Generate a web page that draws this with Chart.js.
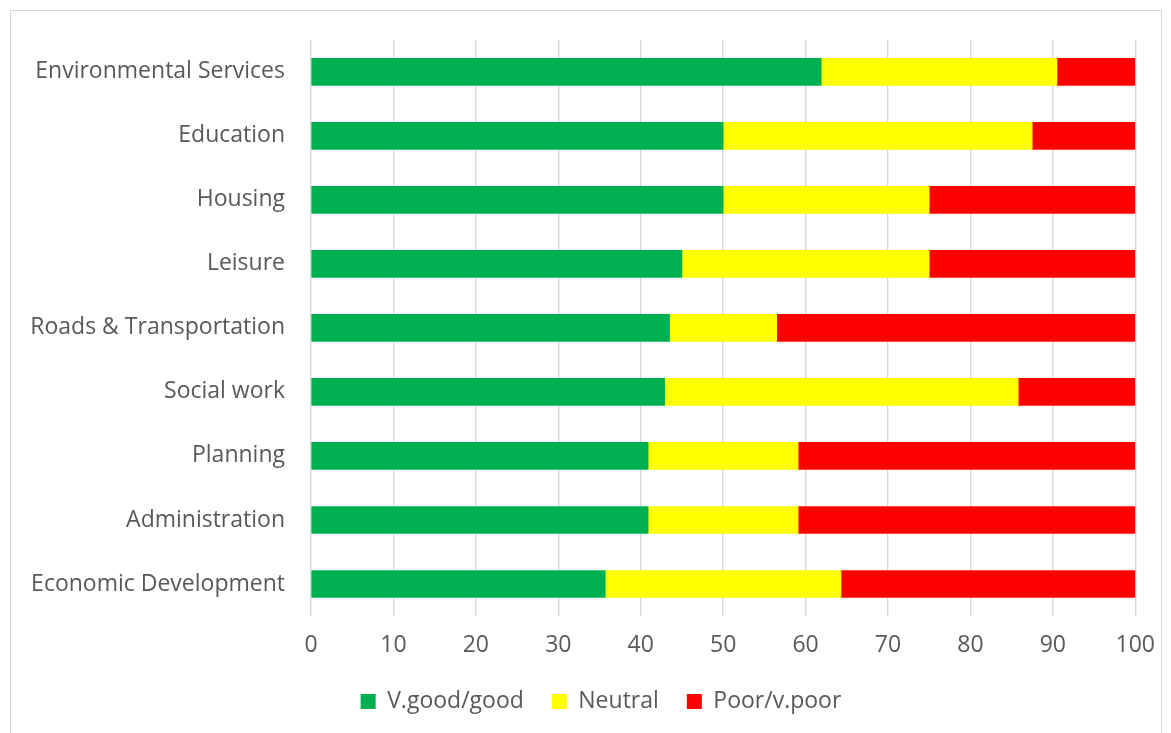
<!DOCTYPE html>
<html lang="en">
<head>
<meta charset="UTF-8">
<title>Service satisfaction</title>
<script src="https://cdn.jsdelivr.net/npm/chart.js@4"></script>
<style>
  * { box-sizing: border-box; margin: 0; padding: 0; }
  html, body { width: 1171px; height: 733px; background: #fff; overflow: hidden; }
  .frame { position: absolute; left: 10px; top: 10px; width: 1152px; height: 740px; border: 1.5px solid #d9d9d9; }
  .wrap { position: absolute; left: 0; top: 0; width: 1171px; height: 733px; }
</style>
</head>
<body>
<div class="frame"></div>
<div class="wrap"><canvas id="chart" width="1171" height="733"></canvas></div>
<script>
// ---------- Data (percent of respondents) ----------
const services = [
  'Environmental Services', 'Education', 'Housing', 'Leisure',
  'Roads & Transportation', 'Social work', 'Planning', 'Administration',
  'Economic Development'
];
const goodShare    = [61.9, 50.0, 50.0, 45.0, 43.5, 42.9, 40.9, 40.9, 35.7];
const neutralShare = [28.6, 37.5, 25.0, 30.0, 13.0, 42.9, 18.2, 18.2, 28.6];
const poorShare    = [ 9.5, 12.5, 25.0, 25.0, 43.5, 14.2, 40.9, 40.9, 35.7];
const seriesNames  = ['V.good/good', 'Neutral', 'Poor/v.poor'];
const xTicks       = [0, 10, 20, 30, 40, 50, 60, 70, 80, 90, 100];

const COLORS = { good: '#00b050', neutral: '#ffff00', poor: '#ff0000' };
const TEXT = '#595959';
const FONT = { family: '"Open Sans", sans-serif', size: 23 };

const datasets = [
  { label: seriesNames[0], data: goodShare,    backgroundColor: COLORS.good },
  { label: seriesNames[1], data: neutralShare, backgroundColor: COLORS.neutral },
  { label: seriesNames[2], data: poorShare,    backgroundColor: COLORS.poor },
].map(d => ({ ...d, barThickness: 27, borderWidth: 0 }));

// nudge the legend right so it sits centred under the bars
const legendShift = {
  id: 'legendShift',
  afterLayout(chart) {
    chart.legend.left += 33;
    chart.legend.right += 33;
  },
};

new Chart(document.getElementById('chart'), {
  type: 'bar',
  data: { labels: services, datasets },
  plugins: [legendShift],
  options: {
    indexAxis: 'y',
    responsive: false,
    animation: false,
    devicePixelRatio: 1,
    layout: { padding: { top: 39, right: 35, bottom: 10, left: 0 } },
    plugins: {
      tooltip: { enabled: false },
      legend: {
        position: 'bottom',
        labels: {
          color: TEXT, font: FONT,
          boxWidth: 15, boxHeight: 15, padding: 28,
        },
      },
    },
    scales: {
      x: {
        stacked: true, min: 0, max: 100,
        afterBuildTicks: s => { s.ticks = xTicks.map(v => ({ value: v })); },
        afterFit: s => { s.height = 46; },
        ticks: { color: TEXT, font: FONT, padding: 16 },
        grid: { color: '#d9d9d9', lineWidth: 1.4, drawTicks: false },
        border: { display: false },
      },
      y: {
        stacked: true,
        afterFit: s => { s.width = 311; },
        ticks: { color: TEXT, font: FONT, padding: 26 },
        grid: { display: false, drawTicks: false },
        border: { display: false },
      },
    },
  },
});
</script>
</body>
</html>
